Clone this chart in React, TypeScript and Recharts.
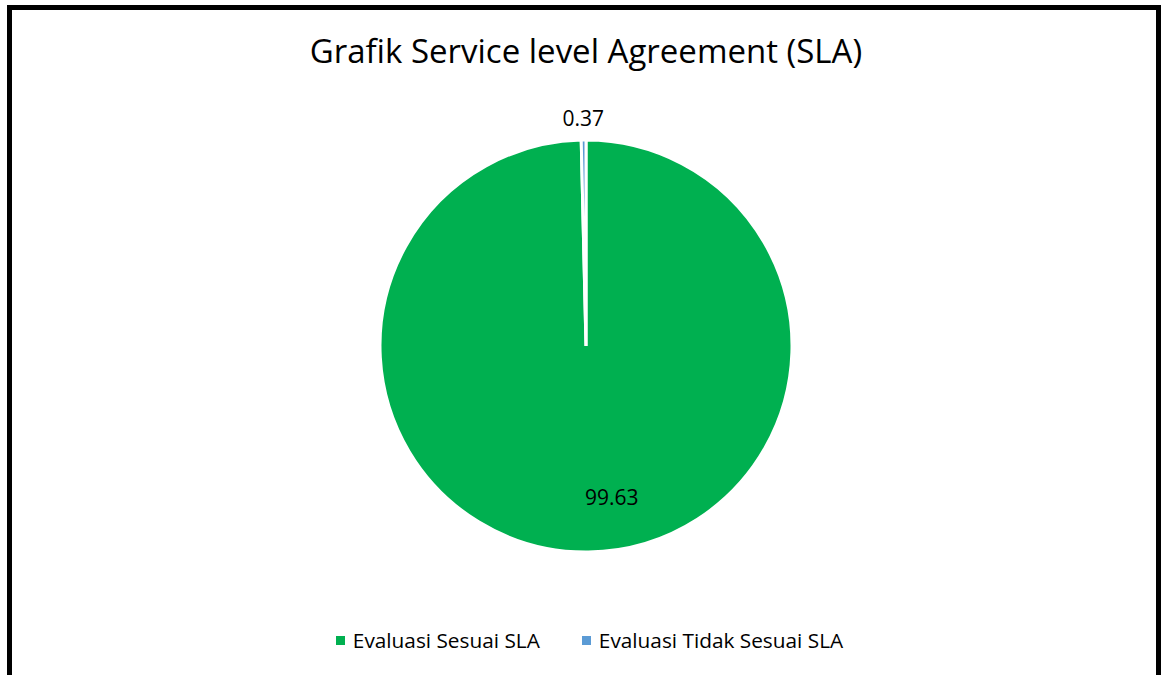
import { PieChart, Pie, Cell, Legend } from "recharts";

const categories = ["Evaluasi Sesuai SLA", "Evaluasi Tidak Sesuai SLA"];
const values = [99.63, 0.37];
const colors = ["#00B050", "#5B9BD5"];

const data = categories.map((name, i) => ({ name, value: values[i] }));

const RAD = Math.PI / 180;
const FONT = "'Open Sans', sans-serif";

function renderLabel(props: any) {
  const { cx, cy, midAngle, outerRadius, index, value } = props;
  let r = outerRadius + 22;
  let angle = midAngle;
  if (index === 0) {
    r = outerRadius * 0.745;
    angle = midAngle + 9;
  }
  const x = cx + r * Math.cos(-angle * RAD);
  const y = cy + r * Math.sin(-angle * RAD);
  return (
    <text x={x} y={y} textAnchor="middle" dominantBaseline="central" fill="#000" fontSize={21} fontFamily={FONT}>
      {value.toFixed(2)}
    </text>
  );
}

function renderLegend() {
  return (
    <div
      style={{
        display: "flex",
        justifyContent: "center",
        gap: 42,
        paddingLeft: 18,
        fontFamily: FONT,
        fontSize: 20.8,
        color: "#000",
      }}
    >
      {data.map((d, i) => (
        <div key={d.name} style={{ display: "flex", alignItems: "center" }}>
          <span style={{ width: 9, height: 9, background: colors[i], marginRight: 8, display: "inline-block" }} />
          {d.name}
        </div>
      ))}
    </div>
  );
}

export default function App() {
  return (
    <div style={{ position: "absolute", left: 0, top: 0, width: 1161, height: 675, overflow: "hidden", background: "#fff" }}>
      <div
        style={{
          position: "absolute",
          left: 7,
          top: 5,
          width: 1154,
          height: 700,
          border: "5px solid #000",
          boxSizing: "border-box",
        }}
      />
      <div
        style={{
          position: "absolute",
          left: 0,
          width: 1172,
          top: 28,
          textAlign: "center",
          fontFamily: FONT,
          fontSize: 33,
          color: "#000",
        }}
      >
        Grafik Service level Agreement (SLA)
      </div>
      <div style={{ position: "absolute", left: 0, top: 0 }}>
        <PieChart width={1161} height={675} margin={{ top: 0, right: 0, bottom: 0, left: 0 }}>
          <Pie
            data={data}
            dataKey="value"
            nameKey="name"
            cx={586}
            cy={346}
            outerRadius={206}
            startAngle={90}
            endAngle={-270}
            stroke="#fff"
            strokeWidth={3}
            label={renderLabel}
            labelLine={false}
            isAnimationActive={false}
          >
            {data.map((d, i) => (
              <Cell key={d.name} fill={colors[i]} />
            ))}
          </Pie>
          <Legend content={renderLegend} verticalAlign="bottom" wrapperStyle={{ bottom: 21 }} />
        </PieChart>
      </div>
    </div>
  );
}
